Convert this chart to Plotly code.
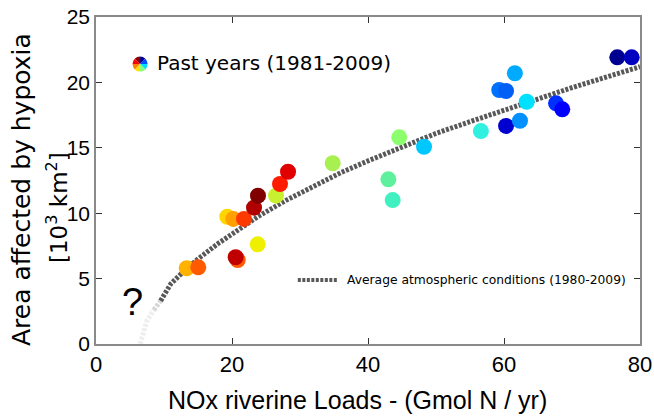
import plotly.graph_objects as go

# Data
nox_load = [13.34, 15.04, 19.31, 20.19, 21.76, 20.84, 20.54, 23.78, 23.24, 23.82,
            26.47, 27.06, 28.24, 34.81, 44.6, 43.0, 43.63, 48.24, 56.6, 59.3,
            60.3, 60.3, 61.6, 62.35, 63.34, 67.65, 68.57, 76.66, 78.78]
hypoxia_area = [5.79, 5.86, 9.73, 9.56, 9.56, 6.42, 6.63, 7.62, 10.42, 11.34,
                11.34, 12.23, 13.17, 13.82, 15.8, 12.59, 11.0, 15.08, 16.28, 19.42,
                19.34, 16.67, 20.7, 17.07, 18.52, 18.4, 17.94, 21.92, 21.92]
point_colors = ["#FFB300", "#FF5A00", "#FFD500", "#FFA000", "#FF3A00", "#FF5A00", "#C00000",
                "#EEF000", "#B00000", "#800000", "#C8F030", "#FF1A00", "#E00000", "#A8F050",
                "#8CFF6C", "#5EF09C", "#40F0C0", "#00C8FF", "#30F0E0", "#0070FF", "#0060F5",
                "#0000D0", "#00AAFF", "#0090FF", "#00E0FF", "#0030FF", "#0000FF", "#000090",
                "#0000C0"]

# Average-conditions curve
curve_faint_x = [6.5, 7.5, 8.5, 9.5]
curve_faint_y = [0.0, 1.8, 2.6, 3.3]
curve_x = [9.5, 11, 13, 15, 18, 21, 24, 28, 32, 36, 40, 45, 50, 55, 60, 65, 70, 75, 80]
curve_y = [3.3, 4.6, 5.6, 6.5, 7.7, 8.8, 9.8, 11.0, 12.1, 13.1, 14.0, 15.1, 16.1,
           17.0, 17.9, 18.8, 19.6, 20.4, 21.2]

x_ticks = [0, 20, 40, 60, 80]
y_ticks = [0, 5, 10, 15, 20, 25]
icon_colors = ["#000090", "#0050FF", "#00E0FF", "#80FF80", "#FFE000", "#FF8000", "#FF0000", "#900000"]

fig = go.Figure()

fig.add_trace(go.Scatter(x=curve_faint_x[:3], y=curve_faint_y[:3], mode="lines",
                         line=dict(color="#eeeeee", width=5, dash="3px,1.5px"),
                         hoverinfo="skip", showlegend=False))
fig.add_trace(go.Scatter(x=curve_faint_x[2:], y=curve_faint_y[2:], mode="lines",
                         line=dict(color="#d6d6d6", width=5, dash="3px,1.5px"),
                         hoverinfo="skip", showlegend=False))
fig.add_trace(go.Scatter(x=curve_x, y=curve_y, mode="lines",
                         line=dict(color="#585858", width=5, dash="3px,1.5px"),
                         hoverinfo="skip", showlegend=False))

fig.add_trace(go.Scatter(x=nox_load, y=hypoxia_area, mode="markers",
                         marker=dict(size=16, color=point_colors, line=dict(width=0)),
                         showlegend=False))

# Legend icon (multi-coloured disc)
fig.add_trace(go.Pie(values=[1] * len(icon_colors), marker=dict(colors=icon_colors, line=dict(width=0)),
                     sort=False, direction="clockwise", rotation=0, textinfo="none",
                     hoverinfo="skip", showlegend=False,
                     domain=dict(x=[0.067, 0.095], y=[0.833, 0.879])))

axis_common = dict(showgrid=False, zeroline=False, showline=True, linecolor="#8a8a8a", linewidth=1.5,
                   mirror="ticks", ticks="inside", ticklen=6, tickcolor="#333333", tickwidth=1,
                   automargin=False, ticklabeloverflow="allow")

fig.update_layout(
    width=654, height=418,
    margin=dict(l=96, r=14, t=17, b=74, autoexpand=False),
    paper_bgcolor="white", plot_bgcolor="white",
    xaxis=dict(range=[0, 80], tickvals=x_ticks, ticktext=[str(v) for v in x_ticks],
               tickfont=dict(family="Liberation Sans", size=22, color="black"),
               **axis_common),
    yaxis=dict(range=[0, 25], tickvals=y_ticks, ticktext=[str(v) for v in y_ticks],
               tickfont=dict(family="Liberation Sans", size=21, color="black"),
               **axis_common),
    annotations=[
        dict(text="NOx riverine Loads - (Gmol N / yr)", xref="paper", yref="paper", x=0.48, y=-0.171,
             showarrow=False, xanchor="center", yanchor="middle",
             font=dict(family="Liberation Sans, Arial", size=25, color="black")),
        dict(text="Area affected by hypoxia", xref="paper", yref="paper", x=-0.136, y=0.471,
             textangle=-90, showarrow=False, xanchor="center", yanchor="middle",
             font=dict(family="DejaVu Sans", size=25, color="black")),
        dict(text="[10<sup>3</sup> km<sup>2</sup>]", xref="paper", yref="paper", x=-0.0717, y=0.419,
             textangle=-90, showarrow=False, xanchor="center", yanchor="middle",
             font=dict(family="DejaVu Sans", size=23, color="black")),
        dict(text="Past years (1981-2009)", xref="paper", yref="paper", x=0.1085, y=0.859,
             showarrow=False, xanchor="left", yanchor="middle",
             font=dict(family="DejaVu Sans", size=20, color="black")),
        dict(text="Average atmospheric conditions (1980-2009)", xref="paper", yref="paper", x=0.458, y=0.196,
             showarrow=False, xanchor="left", yanchor="middle",
             font=dict(family="DejaVu Sans", size=12.3, color="black")),
        dict(text="?", xref="paper", yref="paper", x=0.068, y=0.127,
             showarrow=False, xanchor="center", yanchor="middle",
             font=dict(family="Liberation Sans", size=38, color="black")),
    ],
    shapes=[dict(type="line", xref="paper", yref="paper", x0=0.371, x1=0.445, y0=0.196, y1=0.196,
                 line=dict(color="#585858", width=4, dash="3px,1.5px"))],
)

fig.write_html("out.html", config={"displayModeBar": False},
               post_script="document.body.style.margin='0';document.body.style.overflow='hidden';")
